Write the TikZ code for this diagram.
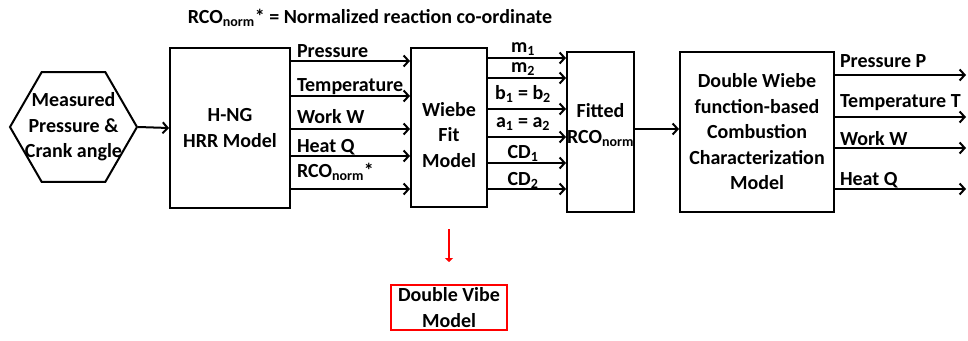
\documentclass[tikz,border=0pt]{standalone}
\usepackage{fontspec}
\setmainfont{Carlito}
\usepackage{tikz}
\usetikzlibrary{arrows.meta,shapes.geometric}

\begin{document}
\begin{tikzpicture}[x=1pt,y=-1pt,
  every node/.style={font=\bfseries\fontsize{20}{25.5}\selectfont},
  blk/.style={draw,line width=2pt,inner sep=0pt,align=center},
  hexbox/.style={draw,line width=2pt,regular polygon,regular polygon sides=6,
    minimum size=127pt,inner sep=0pt},
  arr/.style={line width=2pt,-{Straight Barb[length=5pt,width=11pt,line width=2pt]}},
  redarr/.style={draw=red,line width=2.4pt,-{Triangle[length=4pt,width=8pt]}},
  lbl/.style={inner sep=0pt}]
\useasboundingbox (0,0) rectangle (968,340);
% title
\node (title) at (370,18) {RCO\textsubscript{norm}* = Normalized reaction co-ordinate};
% blocks
\node[hexbox] (meas) at (73.5,127) {};
\node[align=center,inner sep=0pt] (meastxt) at (meas) {Measured\\Pressure \&\\Crank angle};
\node[blk,minimum width=120pt,minimum height=160pt] (hrr) at (230,128) {H-NG\\HRR Model};
\node[blk,minimum width=76pt,minimum height=159pt] (wiebe) at (449,127.5) {};
\node[align=center,inner sep=0pt] (wiebetxt) at (449,135) {Wiebe\\Fit\\Model};
\node[blk,minimum width=67pt,minimum height=160pt] (fit) at (600.5,132) {};
\node[align=center,inner sep=0pt] (fittxt) at (600.5,125) {Fitted\\RCO\textsubscript{norm}};
\node[blk,minimum width=154pt,minimum height=160pt] (dw) at (757,132)
  {Double Wiebe\\function-based\\Combustion\\Characterization\\Model};
\node[blk,draw=red,minimum width=116pt,minimum height=45pt] (dv) at (449,307.5) {Double Vibe\\Model};
% connectors
\draw[arr] (meas.east) -- (hrr.west);
\foreach \y/\txt/\dy [count=\i] in {61/Pressure/4,96/Temperature/5,129/Work W/6,
    156/Heat Q/4,189/RCO\textsubscript{norm}*/12}
  \draw[arr] (hrr.east |- 0,\y) -- (wiebe.west |- 0,\y)
    node[lbl,pos=0,anchor=base west,xshift=5pt,yshift=\dy pt] (hl\i) {\txt};
\foreach \y/\txt/\dy [count=\i] in {58/m\textsubscript{1}/6,78/m\textsubscript{2}/6,
    109/b\textsubscript{1} = b\textsubscript{2}/10,137/a\textsubscript{1} = a\textsubscript{2}/10,
    163/CD\textsubscript{1}/5,189/CD\textsubscript{2}/4}
  \draw[arr] (wiebe.east |- 0,\y) -- (fit.west |- 0,\y)
    node[lbl,midway,anchor=base,xshift=-4pt,yshift=\dy pt] (wl\i) {\txt};
\draw[arr] (fit.east |- 0,129) -- (dw.west |- 0,129);
\foreach \y/\txt/\dy [count=\i] in {75/Pressure P/8,117/Temperature T/10,148/Work W/3,189/Heat Q/4} {
  \coordinate (out\i) at (966,\y);
  \draw[arr] (dw.east |- out\i) -- (out\i)
    node[lbl,pos=0,anchor=base west,xshift=4pt,yshift=\dy pt] (dl\i) {\txt};
}
\draw[redarr,shorten <=21pt,shorten >=22pt] (wiebe.south) -- (dv.north);
\end{tikzpicture}
\end{document}
